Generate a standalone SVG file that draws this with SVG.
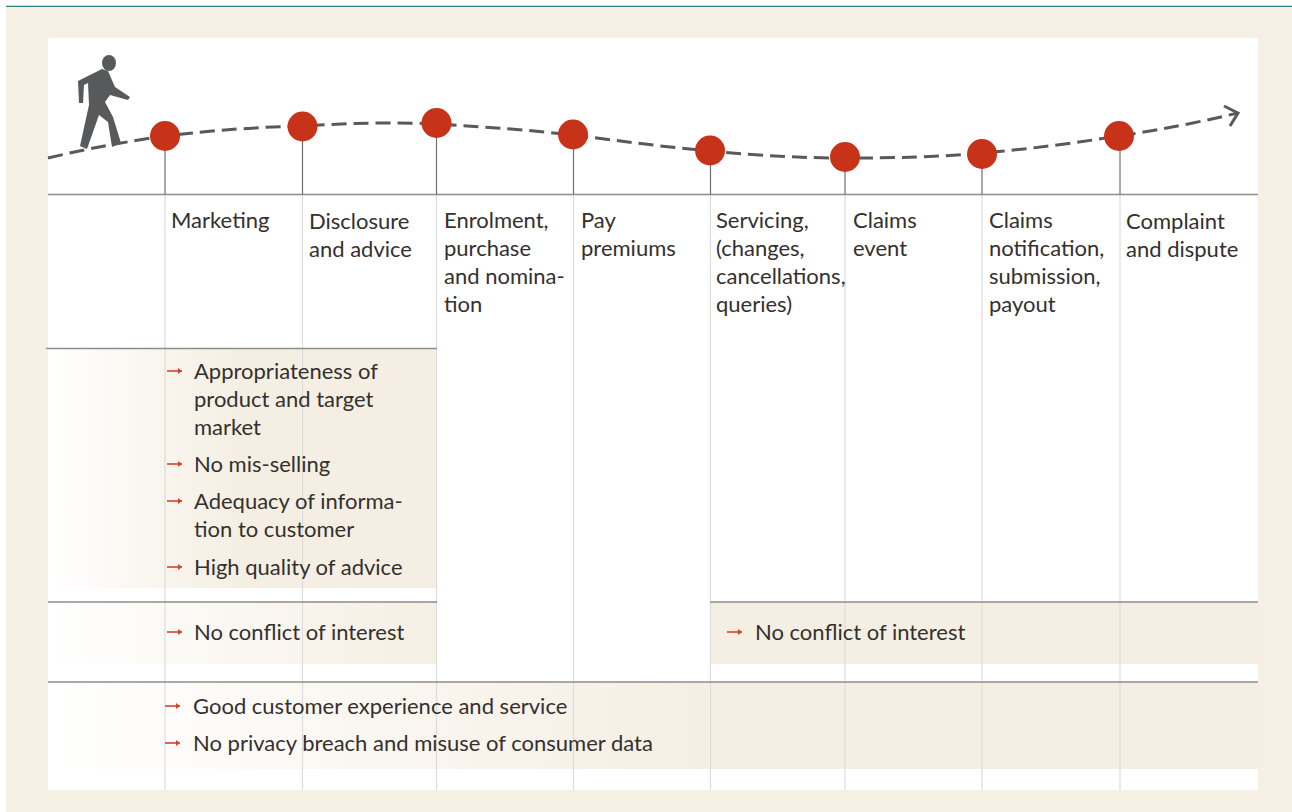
<svg xmlns="http://www.w3.org/2000/svg" width="1292" height="812" viewBox="0 0 1292 812">
<style>
text{font-family:"Lato","Open Sans","Liberation Sans",sans-serif;font-size:22px;fill:#34302e}
.stem{stroke:#707070;stroke-width:1.2;fill:none}
.grid{stroke:#dcdcdc;stroke-width:1.2;fill:none}
.rule{stroke:#8f8d88;stroke-width:1.3;fill:none}
.dot{fill:#c63318}
.flow{stroke:#58595b;stroke-width:3;fill:none;stroke-dasharray:15 7}
.bul{stroke:#d2452b;stroke-width:1.6;fill:none;marker-end:url(#tip)}
</style>
<defs>
<marker id="tip" markerUnits="userSpaceOnUse" markerWidth="6" markerHeight="8" refX="5" refY="4" orient="auto"><path d="M1 1L5 4L1 7Z" fill="#d2452b"/></marker>
<linearGradient id="g1" gradientUnits="userSpaceOnUse" x1="48" y1="0" x2="240" y2="0"><stop offset="0" stop-color="#f5efe3" stop-opacity="0"/><stop offset="1" stop-color="#f5efe3"/></linearGradient>
<linearGradient id="g2" gradientUnits="userSpaceOnUse" x1="48" y1="0" x2="437" y2="0"><stop offset="0" stop-color="#f5efe3" stop-opacity="0"/><stop offset="1" stop-color="#f5efe3"/></linearGradient>
<linearGradient id="g3" gradientUnits="userSpaceOnUse" x1="48" y1="0" x2="700" y2="0"><stop offset="0" stop-color="#f5efe3" stop-opacity="0"/><stop offset="1" stop-color="#f5efe3"/></linearGradient>
</defs>
<rect width="1292" height="812" fill="#fff"/>
<rect x="6" y="6" width="1286" height="806" fill="#f6efe3"/>
<path d="M6 6.3H1292" stroke="#2f7e7b" stroke-width="1.2"/>
<rect x="48" y="38" width="1210" height="752" fill="#fff"/>
<g id="bands">
<rect x="48" y="348" width="389" height="240" fill="url(#g1)"/>
<rect x="48" y="602" width="389" height="62" fill="url(#g2)"/>
<rect x="710" y="602" width="548" height="62" fill="#f5efe3"/>
<rect x="48" y="682" width="1210" height="87" fill="url(#g3)"/>
</g>
<g id="connectors">
<path class="grid" d="M165 194V790M302.500 194V790M436.500 194V790M573.500 194V790M710.500 194V790M845 194V790M982 194V790M1120 194V790"/>
<path class="rule" d="M48 194.500H1258M46 348.500H437M48 602H437M710 602H1258M48 682H1258"/>
<path class="stem" d="M165 150V194M302.500 140V194M436.500 137V194M573.500 148V194M710.500 164V194M845 170V194M982 167V194M1120 149V194"/>
<path class="flow" d="M48 158C90 148 130 141 165 136C215 130 260 127 302 126C350 123 395 122 436 124C485 127 530 130 573 135C620 141 665 147 710 151C760 156 805 158 845 158C895 158 940 157 982 153C1030 149 1075 143 1119 136C1160 130 1200 122 1238 113"/>
<path d="M1224 106L1238 113L1230 126" fill="none" stroke="#58595b" stroke-width="3"/>
</g>
<g id="walker" fill="#58595b">
<ellipse cx="109" cy="63" rx="7" ry="8"/>
<path d="M78 81L102 69L108 71L115 87L130 97L128 100L110 95L105 102L113 117L121 143L112 147L108 122L99 115L87 149L80 146L89 105L88 83L84 85L83 103L79 103Z"/>
</g>
<g id="n1"><circle class="dot" cx="165" cy="136" r="15"/><text x="171" y="228">Marketing</text></g>
<g id="n2"><circle class="dot" cx="302.500" cy="126.500" r="15"/><text x="309" y="229">Disclosure</text><text x="309" y="257">and advice</text></g>
<g id="n3"><circle class="dot" cx="436.500" cy="123" r="15"/><text x="444" y="228">Enrolment,</text><text x="444" y="256">purchase</text><text x="444" y="284">and nomina-</text><text x="444" y="312">tion</text></g>
<g id="n4"><circle class="dot" cx="573" cy="134.500" r="15"/><text x="581" y="228">Pay</text><text x="581" y="256">premiums</text></g>
<g id="n5"><circle class="dot" cx="710" cy="150.500" r="15"/><text x="716" y="228">Servicing,</text><text x="716" y="256">(changes,</text><text x="716" y="284">cancellations,</text><text x="716" y="312">queries)</text></g>
<g id="n6"><circle class="dot" cx="845" cy="157" r="15"/><text x="853" y="228">Claims</text><text x="853" y="256">event</text></g>
<g id="n7"><circle class="dot" cx="982" cy="154" r="15"/><text x="989" y="228">Claims</text><text x="989" y="256">notification,</text><text x="989" y="284">submission,</text><text x="989" y="312">payout</text></g>
<g id="n8"><circle class="dot" cx="1119" cy="136" r="15"/><text x="1126" y="229">Complaint</text><text x="1126" y="257">and dispute</text></g>
<g id="list-a">
<path class="bul" d="M167 371H182"/><text x="194" y="379">Appropriateness of</text><text x="194" y="407">product and target</text><text x="194" y="435">market</text>
<path class="bul" d="M167 464H182"/><text x="194" y="472">No mis-selling</text>
<path class="bul" d="M167 501H182"/><text x="194" y="509">Adequacy of informa-</text><text x="194" y="537">tion to customer</text>
<path class="bul" d="M167 567H182"/><text x="194" y="575">High quality of advice</text>
</g>
<g id="list-b"><path class="bul" d="M167 632H182"/><text x="194" y="640">No conflict of interest</text></g>
<g id="list-c"><path class="bul" d="M727 632H742"/><text x="755" y="640">No conflict of interest</text></g>
<g id="list-d">
<path class="bul" d="M165 706H180"/><text x="193" y="714">Good customer experience and service</text>
<path class="bul" d="M165 743H180"/><text x="193" y="751">No privacy breach and misuse of consumer data</text>
</g>
</svg>
